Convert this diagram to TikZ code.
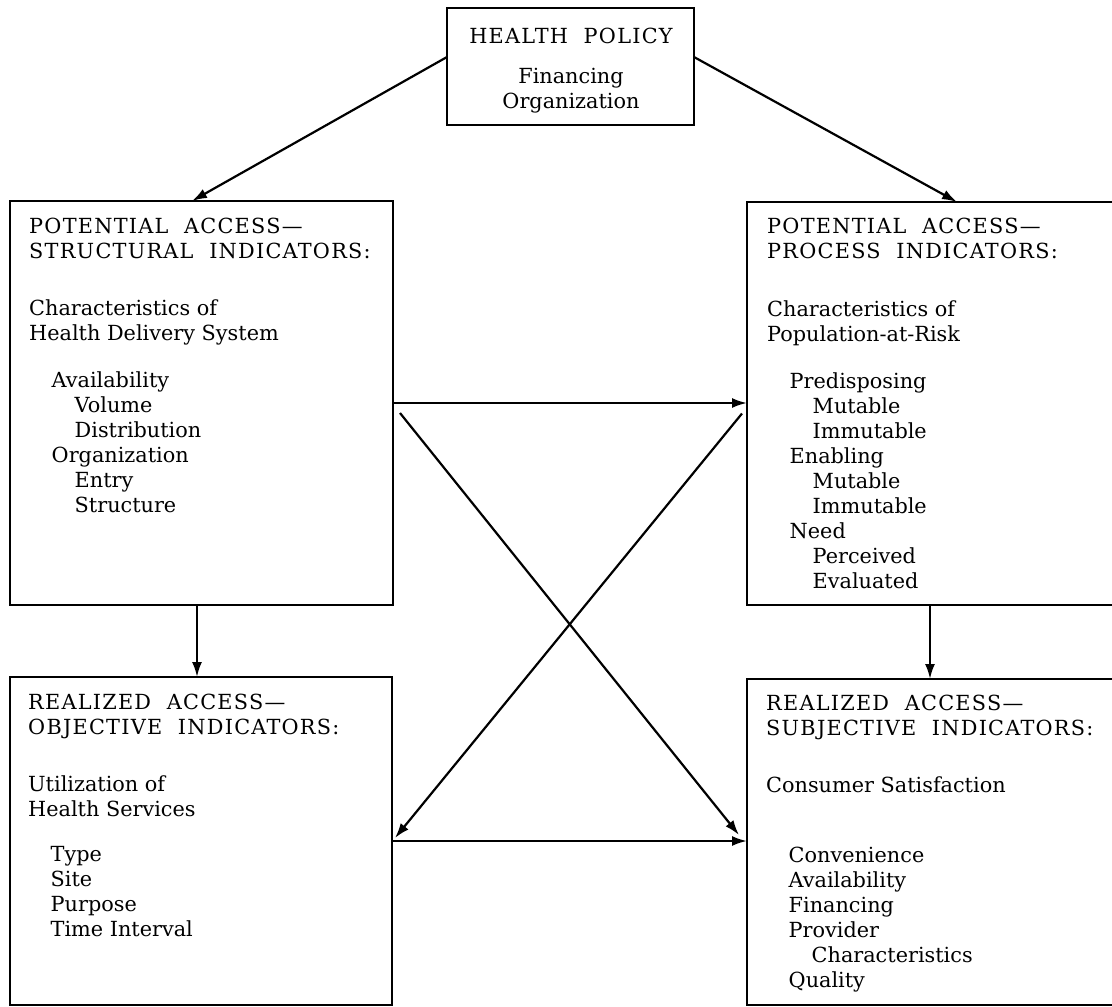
\documentclass[tikz,border=0pt]{standalone}
\usepackage{fontspec}
\setmainfont{DejaVu Serif}
\newfontfamily\capsfont{DejaVu Serif}[LetterSpace=6,WordSpace=2]
\usetikzlibrary{arrows.meta,calc}
\newcommand\hd[1]{{\capsfont #1}}
\newcommand\ia{\hspace*{22.5pt}}
\newcommand\ib{\hspace*{45.5pt}}
\begin{document}
\begin{tikzpicture}[x=1pt,y=-1pt,
  box/.style={draw, line width=2.2pt, inner sep=0pt, outer sep=0pt},
  txt/.style={anchor=north west, align=left, inner sep=0pt, font=\fontsize{20.8}{25}\selectfont},
  arr/.style={line width=2.2pt, -{Latex[length=15pt,width=10pt]}}]
\useasboundingbox (0,0) rectangle (1112,1007);
\fill[white] (0,0) rectangle (1112,1007);
\clip (0,0) rectangle (1112,1007);
% boxes
\node[box, minimum width=247pt, minimum height=117pt] (hp) at (570.5,66.5) {};
\node[box, minimum width=383pt, minimum height=404pt] (ps) at (201.5,403) {};
\node[box, minimum width=378pt, minimum height=403pt] (pp) at (936,403.5) {};
\node[box, minimum width=382pt, minimum height=328pt] (ro) at (201,841) {};
\node[box, minimum width=378pt, minimum height=326pt] (rs) at (936,842) {};
% texts
\node[txt, anchor=north, align=center] (hpt) at (571,25.5)
  {\strut\hd{HEALTH POLICY}\\[15pt] Financing\\ Organization};
\node[txt] (pst) at (29,215.5)
  {\strut\hd{POTENTIAL ACCESS—}\\ \hd{STRUCTURAL INDICATORS:}\\[32pt]
   Characteristics of\\ Health Delivery System\\[22pt]
   \ia Availability\\ \ib Volume\\ \ib Distribution\\
   \ia Organization\\ \ib Entry\\ \ib Structure};
\node[txt] (ppt) at (767,215.5)
  {\strut\hd{POTENTIAL ACCESS—}\\ \hd{PROCESS INDICATORS:}\\[33pt]
   Characteristics of\\ Population-at-Risk\\[22pt]
   \ia Predisposing\\ \ib Mutable\\ \ib Immutable\\
   \ia Enabling\\ \ib Mutable\\ \ib Immutable\\
   \ia Need\\ \ib Perceived\\ \ib Evaluated};
\node[txt] (rot) at (28,691.5)
  {\strut\hd{REALIZED ACCESS—}\\ \hd{OBJECTIVE INDICATORS:}\\[32pt]
   Utilization of\\ Health Services\\[20pt]
   \ia Type\\ \ia Site\\ \ia Purpose\\ \ia Time Interval};
\node[txt] (rst) at (766,692.5)
  {\strut\hd{REALIZED ACCESS—}\\ \hd{SUBJECTIVE INDICATORS:}\\[32pt]
   Consumer Satisfaction\\[45pt]
   \ia Convenience\\ \ia Availability\\ \ia Financing\\ \ia Provider\\
   \ib Characteristics\\ \ia Quality};
% connectors
\draw[arr] ($(hp.west)+(0,-9.5)$) -- ($(ps.north)+(-9.5,0)$);
\draw[arr] ($(hp.east)+(0,-9.5)$) -- ($(pp.north)+(21,0)$);
\draw[arr] ($(ps.south)+(-4.5,0)$) -- ($(ro.north)+(-4,0)$);
\draw[arr] ($(pp.south)+(-6,0)$) -- ($(rs.north)+(-6,0)$);
\draw[arr] (ps.east) -- (ps.east -| pp.west);
\draw[arr] (ro.east) -- (ro.east -| rs.west);
\draw[arr] ($(ps.east)+(7,10)$) -- ($(rs.west)+(-8,-7)$);
\draw[arr] ($(pp.west)+(-5,10)$) -- ($(ro.east)+(3,-3)$);
\end{tikzpicture}
\end{document}
